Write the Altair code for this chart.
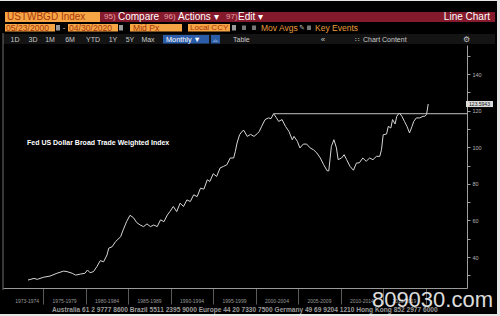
import altair as alt
import pandas as pd

# ---------------- data ----------------
years = [1973.2, 1973.9, 1974.3, 1975.0, 1975.8, 1976.6, 1977.4, 1977.8, 1978.4, 1978.8,
         1979.4, 1979.9, 1980.2, 1980.5, 1980.9, 1981.3, 1981.7, 1982.1, 1982.5, 1982.7,
         1983.1, 1983.5, 1984.1, 1984.4, 1984.8, 1985.2, 1985.6, 1986.0, 1986.4, 1986.8,
         1987.2, 1987.6, 1988.0, 1988.4, 1988.8, 1989.2, 1989.6, 1989.9, 1990.3, 1990.7,
         1991.1, 1991.5, 1991.9, 1992.3, 1992.7, 1993.1, 1993.5, 1993.9, 1994.3, 1994.6,
         1995.0, 1995.4, 1995.8, 1996.2, 1996.6, 1997.0, 1997.4, 1997.6, 1997.8, 1998.1,
         1998.4, 1998.6, 1999.0, 1999.4, 1999.8, 2000.2, 2000.4, 2000.7, 2001.1, 2001.5,
         2001.8, 2002.1, 2002.4, 2002.7, 2003.1, 2003.5, 2003.9, 2004.3, 2004.5, 2004.9,
         2005.2, 2005.6, 2006.0, 2006.4, 2006.8, 2007.2, 2007.6, 2008.0, 2008.4, 2008.6,
         2008.9, 2009.2, 2009.5, 2009.7, 2010.1, 2010.4, 2010.7, 2011.1, 2011.5, 2011.85,
         2012.2, 2012.6, 2013.0, 2013.4, 2013.8, 2014.2, 2014.6, 2014.8, 2015.0, 2015.4,
         2015.6, 2015.9, 2016.1, 2016.4, 2016.6, 2016.9, 2017.2, 2017.5, 2017.8, 2018.1,
         2018.4, 2018.6, 2018.9, 2019.3, 2019.7, 2019.9, 2020.1, 2020.3]
values = [27.4, 28.3, 27.8, 28.9, 29.6, 31.1, 32.3, 32.0, 31.1, 30.1,
          30.7, 31.1, 32.9, 31.4, 32.0, 34.7, 38.0, 37.4, 41.1, 44.8,
          45.6, 48.4, 51.1, 54.8, 59.3, 62.8, 61.5, 58.8, 57.5, 56.6,
          58.1, 56.6, 57.5, 56.6, 60.3, 59.3, 63.0, 64.8, 67.6, 64.8,
          69.4, 67.6, 71.2, 70.3, 74.0, 73.0, 77.6, 77.1, 82.2, 81.3,
          85.5, 84.0, 88.6, 89.5, 90.4, 94.1, 94.1, 97.7, 102.3, 106.8,
          108.7, 109.2, 105.9, 107.0, 105.9, 107.5, 108.5, 111.4, 115.1, 116.0,
          115.6, 118.3, 116.3, 114.1, 115.1, 111.4, 108.7, 104.1, 105.9, 103.2,
          99.6, 101.7, 101.7, 99.6, 98.6, 96.8, 94.1, 90.4, 87.1, 87.1,
          100.4, 104.1, 99.6, 93.2, 94.1, 95.9, 93.2, 89.5, 87.4, 91.3,
          91.5, 94.1, 92.3, 94.1, 93.2, 95.0, 95.0, 98.6, 106.8, 107.2,
          111.4, 110.5, 115.1, 112.7, 116.9, 118.7, 116.9, 114.1, 111.4, 107.8,
          111.4, 114.1, 116.0, 116.0, 116.9, 116.9, 117.8, 123.5943]

x_tick_years = [1975, 1980, 1985, 1990, 1995, 2000, 2005, 2010, 2015, 2020]
x_labels = ["1973-1974", "1975-1979", "1980-1984", "1985-1989", "1990-1994",
            "1995-1999", "2000-2004", "2005-2009", "2010-2014", "2015-2019"]
x_label_years = [1973.1, 1977.5, 1982.5, 1987.5, 1992.5, 1997.5, 2002.5, 2007.5, 2012.5, 2017.5]
y_tick_values = [30, 40, 50, 60, 70, 80, 90, 100, 110, 120, 130, 140, 150]
chart_title = "Fed US Dollar Broad Trade Weighted Index"
last_label = "123.5943"
footer = ("Australia 61 2 9777 8600 Brazil 5511 2395 9000 Europe 44 20 7330 7500 "
          "Germany 49 69 9204 1210 Hong Kong 852 2977 6000")

series = pd.DataFrame({"year": years, "value": values})
# resistance line from the 2002 peak
pre = series[series.year < 2010]
peak = pre.loc[pre.value.idxmax()]
hline = pd.DataFrame({"year": [peak.year], "value": [peak.value]})
last = pd.DataFrame({"value": [values[-1]], "label": [last_label]})
xlab = pd.DataFrame({"year": x_label_years, "label": x_labels})

# ---------------- layout ----------------
OX, OY = 3, 45          # plot origin in page pixels
W, H = 464, 243
FONT = "Liberation Sans"

xscale = alt.Scale(domain=[1970.257, 2024.864], nice=False, zero=False)
yscale = alt.Scale(domain=[23.06, 155.85], nice=False, zero=False)
xaxis = alt.Axis(values=x_tick_years, labels=False, tickSize=16,
                 tickColor="#5a5a5a", domainColor="#9a9a9a",
                 grid=False, title=None, tickWidth=1)
yaxis = alt.Axis(orient="right", values=y_tick_values,
                 labelExpr="datum.value % 20 == 0 ? datum.label : ''",
                 tickSize=3, tickColor="#a0a0a0", domainColor="#a0a0a0",
                 labelColor="#b5b5b5", labelFontSize=5.5, labelFont=FONT,
                 labelPadding=2, grid=False, title=None)

dummy = alt.Data(values=[{"a": 1}])


def box(x0, y0, x1, y1, color, opacity=1):
    return alt.Chart(dummy).mark_rect(color=color, opacity=opacity).encode(
        x=alt.value(x0 - OX), x2=alt.value(x1 - OX),
        y=alt.value(y0 - OY), y2=alt.value(y1 - OY))


def txt(x, y, s, color, size, weight="normal", align="left", font=FONT,
        baseline="middle", opacity=1):
    return alt.Chart(dummy).mark_text(
        text=s, color=color, fontSize=size, fontWeight=weight, align=align,
        baseline=baseline, font=font, opacity=opacity).encode(
        x=alt.value(x - OX), y=alt.value(y - OY))


layers = []

# ---- toolbar ----
ORANGE = "#f5a544"
DARKTXT = "#a8380f"
RED = "#851a2c"
layers += [
    box(5, 12, 100, 22, ORANGE),
    txt(7, 17.3, "USTWBGD Index", DARKTXT, 10),
    box(100, 12, 495, 22, RED),
    txt(104, 17.3, "95)", "#e7a0a8", 8),
    txt(118, 17.3, "Compare", "#ffffff", 10),
    txt(164, 17.3, "96)", "#e7a0a8", 8),
    txt(178, 17.3, "Actions \u25be", "#ffffff", 10),
    txt(226, 17.3, "97)", "#e7a0a8", 8),
    txt(238, 17.3, "Edit \u25be", "#ffffff", 10),
    txt(490, 17.3, "Line Chart", "#ffffff", 10, align="right"),
    # row 2
    box(5, 24, 55, 31.5, ORANGE),
    txt(6, 28, "05/23/2000", DARKTXT, 8.6),
    box(56, 25, 60, 30.5, "#9a9a9a"),
    txt(64, 28, "-", "#cccccc", 8, align="center"),
    box(68, 24, 118, 31.5, ORANGE),
    txt(69, 28, "04/30/2020", DARKTXT, 8.6),
    box(119, 25, 123, 30.5, "#9a9a9a"),
    box(130, 24, 182, 31.5, ORANGE),
    txt(133, 28, "Mid Px", DARKTXT, 8.6),
    box(188, 24, 230, 31.5, ORANGE),
    txt(190, 28, "Local CCY", DARKTXT, 8),
    box(232, 25, 236, 30.5, "#9a9a9a"),
    box(242, 25.5, 246, 30, "#777777"),
    box(252, 25.5, 256, 30, "#777777"),
    txt(261, 28, "Mov Avgs", "#e89a3c", 8.5),
    txt(299, 28, "\u270e", "#bbbbbb", 7),
    box(307, 25.5, 311, 30, "#777777"),
    txt(315, 28, "Key Events", "#e89a3c", 8.5),
    # row 3
    box(3, 34, 495, 44, "#141414"),
]
for lab, cx in [("1D", 15), ("3D", 33), ("1M", 50), ("6M", 70), ("YTD", 93),
                ("1Y", 113), ("5Y", 130), ("Max", 148)]:
    layers.append(txt(cx, 39.5, lab, "#c9c9c9", 7, align="center"))
layers += [
    box(163, 35, 209, 43.5, "#2b5ca8"),
    txt(166, 39.5, "Monthly \u25bc", "#ffffff", 7.3),
    box(211, 35, 220, 43.5, "#2b5ca8"),
    txt(215.5, 39.5, "\u2313", "#ffffff", 6, align="center"),
    txt(233, 39.5, "Table", "#c9c9c9", 7),
    txt(323, 39.5, "\u00ab", "#c9c9c9", 8, align="center"),
    txt(357, 39.5, "\u2237", "#c9c9c9", 7, align="center"),
    txt(363, 39.5, "Chart Content", "#c9c9c9", 7),
    txt(466, 39.5, "\u2699", "#c9c9c9", 8, align="center"),
]

# ---- plot frame pieces ----
layers.append(box(2.5, 33, 3.5, 290, "#6f6f6f"))

# main line (carries both axes)
line = alt.Chart(series).mark_line(color="#d6d6d6", strokeWidth=1).encode(
    x=alt.X("year:Q", scale=xscale, axis=xaxis),
    y=alt.Y("value:Q", scale=yscale, axis=yaxis),
)

res = alt.Chart(hline).mark_rule(color="#c2c2c2", strokeWidth=1).encode(
    x=alt.X("year:Q", scale=xscale, axis=xaxis),
    x2=alt.value(W),
    y=alt.Y("value:Q", scale=yscale, axis=yaxis),
)

lastbox = alt.Chart(last).transform_calculate(
    top="datum.value + 1.65", bot="datum.value - 1.65"
).mark_rect(color="#dcdcdc").encode(
    x=alt.value(466 - OX), x2=alt.value(493 - OX),
    y=alt.Y("top:Q", scale=yscale, axis=yaxis), y2="bot:Q",
)
lasttext = alt.Chart(last).mark_text(
    color="#111111", fontSize=5, font=FONT, align="center", baseline="middle"
).encode(
    x=alt.value(479.5 - OX),
    y=alt.Y("value:Q", scale=yscale, axis=yaxis),
    text="label:N",
)

xlabels = alt.Chart(xlab).mark_text(
    color="#9a9a9a", fontSize=5, font=FONT, align="center", baseline="middle"
).encode(
    x=alt.X("year:Q", scale=xscale, axis=xaxis),
    y=alt.value(300.5 - OY),
    text="label:N",
)

layers += [line, res, lastbox, lasttext, xlabels]

layers += [
    txt(27, 143, chart_title, "#ffffff", 7, weight="bold"),
    txt(52, 309.5, footer, "#9c9c9c", 6.6, weight="bold"),
    txt(493, 307, "809030.com", "#e8e8e8", 22, align="right",
        baseline="alphabetic", opacity=0.95),
    # white screenshot border
    box(0, 0, 500, 1, "#e6e6e6"),
    box(497, 0, 500, 316, "#e6e6e6"),
    box(0, 314, 500, 316, "#e6e6e6"),
]

chart = alt.layer(*layers).properties(
    width=W, height=H,
    padding={"left": OX, "top": OY, "right": 500 - OX - W, "bottom": 316 - OY - H},
    autosize=alt.AutoSizeParams(type="none"),
    background="#000000",
).configure_view(stroke=None)

chart.save("out.html", embed_options={"renderer": "svg", "actions": False})
